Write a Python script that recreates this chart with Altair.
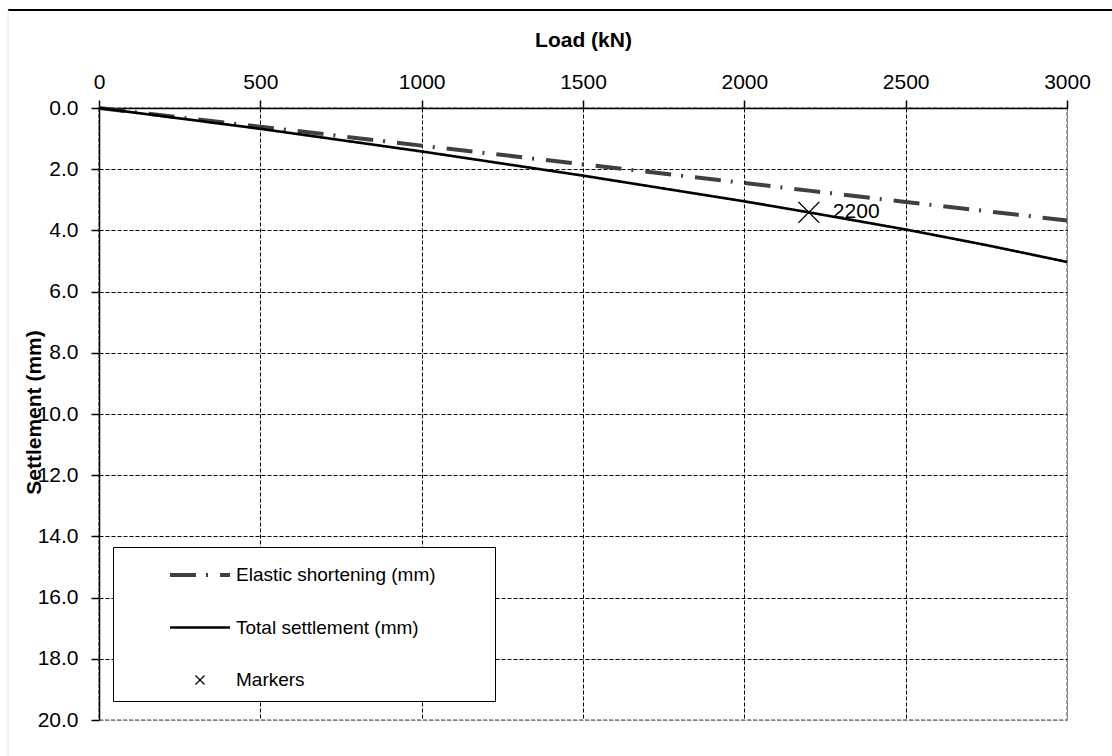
import altair as alt
import pandas as pd

# ---- data ----
loads = [0, 500, 1000, 1500, 2000, 2200, 2500, 2750, 3000]
elastic = [0.0, 0.61, 1.23, 1.84, 2.45, 2.70, 3.07, 3.37, 3.68]
total = [0.0, 0.68, 1.42, 2.21, 3.05, 3.41, 3.97, 4.48, 5.03]
marker_load = [2200]
marker_settle = [3.41]
marker_label = ["2200"]
series = ["Elastic shortening (mm)", "Total settlement (mm)", "Markers"]
x_ticks = [0, 500, 1000, 1500, 2000, 2500, 3000]
y_ticks = [0, 2, 4, 6, 8, 10, 12, 14, 16, 18, 20]

FONT = "Liberation Sans"
PAD = "\u2002" * 5 + "\u200b"

lines_df = pd.DataFrame({
    "load": loads + loads,
    "settle": elastic + total,
    "series": [series[0]] * len(loads) + [series[1]] * len(loads),
})
marker_df = pd.DataFrame({
    "load": marker_load,
    "settle": marker_settle,
    "label": marker_label,
    "series": [series[2]] * len(marker_load),
})

shape_scale = alt.Scale(domain=series, range=[
    "M-2,0H2", "M-2,0H2", "M-0.3,-0.3L0.3,0.3M-0.3,0.3L0.3,-0.3"])
dash_scale = alt.Scale(domain=series, range=[[26, 10, 2, 12], [1, 0], [1, 0]])
color_scale = alt.Scale(domain=series, range=["#404040", "#000000", "#000000"])
width_scale = alt.Scale(domain=series, range=[4, 1.3, 1.5])

legend = alt.Legend(
    title=None,
    labelExpr="datum.label + '" + PAD + "'",
)

x_enc = alt.X("load:Q", scale=alt.Scale(domain=[0, 3000], nice=False),
              axis=alt.Axis(orient="top", values=x_ticks, title="Load (kN)",
                            format="d", labelPadding=8, labelFlush=False,
                            gridColor={"condition": {"test": "datum.value == 3000", "value": "#808080"}, "value": "#000000"}))
y_enc = alt.Y("settle:Q", scale=alt.Scale(domain=[0, 20], reverse=True, nice=False),
              axis=alt.Axis(orient="left", values=y_ticks, title="Settlement (mm)",
                            format=".1f", labelPadding=13, labelFlush=False,
                            gridColor={"condition": {"test": "datum.value == 20", "value": "#808080"}, "value": "#000000"}))

lines = alt.Chart(lines_df).mark_line().encode(
    x=x_enc,
    y=y_enc,
    color=alt.Color("series:N", scale=color_scale, legend=legend),
    strokeDash=alt.StrokeDash("series:N", scale=dash_scale, legend=legend),
    strokeWidth=alt.StrokeWidth("series:N", scale=width_scale, legend=legend),
    detail="series:N",
)

points = alt.Chart(marker_df).mark_point(filled=False, size=4900, opacity=1).encode(
    x="load:Q",
    y="settle:Q",
    shape=alt.Shape("series:N", scale=shape_scale, legend=legend),
    color=alt.Color("series:N", scale=color_scale, legend=legend),
    strokeDash=alt.StrokeDash("series:N", scale=dash_scale, legend=legend),
    strokeWidth=alt.StrokeWidth("series:N", scale=width_scale, legend=legend),
)

labels = alt.Chart(marker_df).mark_text(align="left", baseline="middle", dx=24,
                                        fontSize=21, font=FONT, color="black").encode(
    x="load:Q", y="settle:Q", text="label:N")

border_df = pd.DataFrame({"k": [0]})
top_rule = alt.Chart(border_df).mark_rule(color="#000000", strokeWidth=2).encode(
    x=alt.value(-91), x2=alt.value(1013), y=alt.value(-98))
left_rule = alt.Chart(border_df).mark_rule(color="#e6e6e6", strokeWidth=1).encode(
    x=alt.value(-91), y=alt.value(-98), y2=alt.value(648))

chart = alt.layer(lines, points, labels, top_rule, left_rule).properties(
    width=968, height=612,
    autosize=alt.AutoSizeParams(type="none"),
    padding={"left": 99, "top": 108, "right": 45, "bottom": 36},
).configure_view(
    stroke="#808080", strokeDash=[4, 2], strokeWidth=1.5,
).configure_axis(
    labelFont=FONT, titleFont=FONT, labelFontSize=21, titleFontSize=21,
    labelColor="black", titleColor="black", titleFontWeight="bold",
    domainColor="black", domainWidth=1.5, tickColor="black", tickWidth=1.5,
    tickSize=8, grid=True, gridDash=[4, 2], gridWidth=1,
).configure_axisTop(
    titleY=-68, titleBaseline="middle",
).configure_axisLeft(
    titleX=-65, titleY=304, titleBaseline="middle", labelPadding=13,
).configure_legend(
    orient="none", legendX=14, legendY=439,
    strokeColor="black", fillColor="white", padding=11,
    labelFont=FONT, labelFontSize=19, labelColor="black", labelLimit=600,
    symbolSize=900, symbolOffset=59, labelOffset=19, rowPadding=26,
)

chart.save("out.html", embed_options={"renderer": "svg", "actions": False})
